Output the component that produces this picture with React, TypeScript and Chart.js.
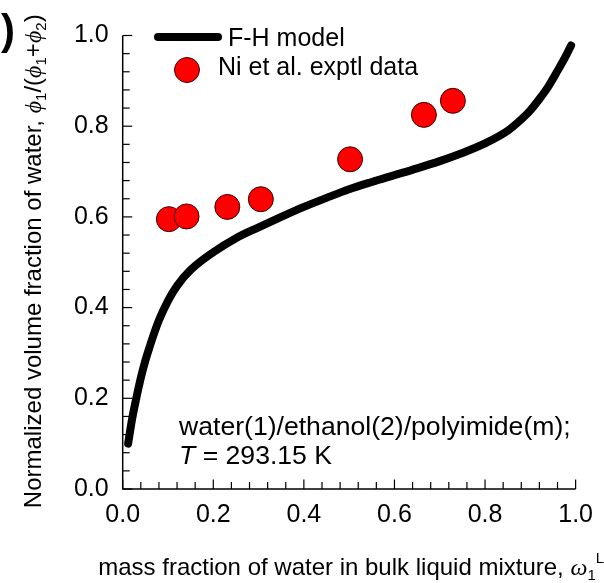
import React, { useEffect, useRef } from "react";
import { Chart, registerables } from "chart.js";

Chart.register(...registerables);

// ---- data ----
const modelX = [0.012, 0.02, 0.03, 0.04, 0.05, 0.06, 0.07, 0.08, 0.1, 0.12, 0.15, 0.2, 0.25, 0.3, 0.35, 0.4, 0.45, 0.5, 0.55, 0.6, 0.65, 0.7, 0.75, 0.8, 0.85, 0.88, 0.9, 0.92, 0.94, 0.96, 0.98, 0.99];
const modelY = [0.1, 0.15, 0.2, 0.245, 0.283, 0.315, 0.345, 0.372, 0.415, 0.448, 0.483, 0.522, 0.553, 0.577, 0.6, 0.622, 0.642, 0.661, 0.677, 0.692, 0.707, 0.723, 0.741, 0.762, 0.79, 0.815, 0.835, 0.86, 0.888, 0.922, 0.958, 0.978];
const exptX = [0.102, 0.141, 0.231, 0.305, 0.502, 0.665, 0.729];
const exptY = [0.595, 0.601, 0.622, 0.639, 0.727, 0.825, 0.856];
const xTicks = [0, 0.2, 0.4, 0.6, 0.8, 1.0];
const yTicks = [0, 0.2, 0.4, 0.6, 0.8, 1.0];
const seriesLabels = ["F-H model", "Ni et al. exptl data"];
const xTitle = "mass fraction of water in bulk liquid mixture, ";
const yTitle = "Normalized volume fraction of water, ";
const noteLine1 = "water(1)/ethanol(2)/polyimide(m);";
const noteLine2 = " = 293.15 K";

const SANS = "'Liberation Sans', Arial, sans-serif";
const SERIF = "'Liberation Serif', 'DejaVu Serif', 'Times New Roman', serif";

type Seg = { t: string; font: string; dy: number };

function drawSegs(ctx: CanvasRenderingContext2D, segs: Seg[], x: number, y: number, center: boolean) {
  let total = 0;
  for (const s of segs) {
    ctx.font = s.font;
    total += ctx.measureText(s.t).width;
  }
  let cx = center ? x - total / 2 : x;
  for (const s of segs) {
    ctx.font = s.font;
    ctx.fillText(s.t, cx, y + s.dy);
    cx += ctx.measureText(s.t).width;
  }
}

const decorPlugin = {
  id: "decor",
  afterDraw(chart: any) {
    const ctx: CanvasRenderingContext2D = chart.ctx;
    const xs = chart.scales.x;
    const ys = chart.scales.y;
    const area = chart.chartArea;
    ctx.save();
    ctx.strokeStyle = "#000";
    ctx.fillStyle = "#000";
    ctx.lineWidth = 1.5;
    // axis lines
    ctx.beginPath();
    ctx.moveTo(area.left, area.top);
    ctx.lineTo(area.left, area.bottom);
    ctx.lineTo(area.right, area.bottom);
    ctx.stroke();
    // ticks (inside)
    ctx.lineWidth = 1.2;
    for (let i = 0; i <= 25; i++) {
      const v = i * 0.04;
      const major = i % 5 === 0;
      const len = major ? 9.5 : 7;
      const px = xs.getPixelForValue(v);
      ctx.beginPath();
      ctx.moveTo(px, area.bottom);
      ctx.lineTo(px, area.bottom - len);
      ctx.stroke();
      const py = ys.getPixelForValue(v);
      ctx.beginPath();
      ctx.moveTo(area.left, py);
      ctx.lineTo(area.left + len, py);
      ctx.stroke();
    }

    ctx.textAlign = "left";
    ctx.textBaseline = "alphabetic";

    // legend
    ctx.lineWidth = 8;
    ctx.lineCap = "round";
    ctx.beginPath();
    ctx.moveTo(158, 37);
    ctx.lineTo(218, 37);
    ctx.stroke();
    ctx.font = `25px ${SANS}`;
    ctx.fillText(seriesLabels[0], 228, 46);
    ctx.beginPath();
    ctx.arc(187, 70, 12.5, 0, Math.PI * 2);
    ctx.fillStyle = "#ff0000";
    ctx.fill();
    ctx.lineWidth = 1;
    ctx.strokeStyle = "#3a0000";
    ctx.stroke();
    ctx.fillStyle = "#000";
    ctx.fillText(seriesLabels[1], 218, 74.5);

    // annotation
    ctx.font = `26.6px ${SANS}`;
    ctx.fillText(noteLine1, 179, 435);
    drawSegs(ctx, [
      { t: "T", font: `italic 26.6px ${SANS}`, dy: 0 },
      { t: noteLine2, font: `26.6px ${SANS}`, dy: 0 },
    ], 179, 464, false);

    // x title
    drawSegs(ctx, [
      { t: xTitle, font: `24px ${SANS}`, dy: 0 },
      { t: "\u03c9", font: `italic 24px ${SERIF}`, dy: 0 },
      { t: "1", font: `15px ${SANS}`, dy: 5 },
      { t: "L", font: `15px ${SANS}`, dy: -12 },
    ], (area.left + area.right) / 2 + 2, 575, true);

    // y title
    ctx.save();
    ctx.translate(41, (area.top + area.bottom) / 2 - 1);
    ctx.rotate(-Math.PI / 2);
    const phi = `italic 24px ${SERIF}`;
    const reg = `24px ${SANS}`;
    const sub = `15px ${SANS}`;
    drawSegs(ctx, [
      { t: yTitle, font: reg, dy: 0 },
      { t: "\u03d5", font: phi, dy: 0 },
      { t: "1", font: sub, dy: 5 },
      { t: "/(", font: reg, dy: 0 },
      { t: "\u03d5", font: phi, dy: 0 },
      { t: "1", font: sub, dy: 5 },
      { t: "+", font: reg, dy: 0 },
      { t: "\u03d5", font: phi, dy: 0 },
      { t: "2", font: sub, dy: 5 },
      { t: ")", font: reg, dy: 0 },
    ], 0, 0, true);
    ctx.restore();

    // panel label fragment
    ctx.font = `bold 42px ${SANS}`;
    ctx.fillText(")", 1, 44);

    ctx.restore();
  },
};

export default function App() {
  const ref = useRef<HTMLCanvasElement | null>(null);
  useEffect(() => {
    if (!ref.current) return;
    const chart = new Chart(ref.current, {
      type: "scatter",
      data: {
        datasets: [
          {
            label: seriesLabels[1],
            data: exptX.map((x, i) => ({ x, y: exptY[i] })),
            backgroundColor: "#ff0000",
            borderColor: "#3a0000",
            borderWidth: 1,
            pointRadius: 12.5,
            pointHoverRadius: 12.5,
            showLine: false,
            clip: false,
          } as any,
          {
            label: seriesLabels[0],
            data: modelX.map((x, i) => ({ x, y: modelY[i] })),
            showLine: true,
            borderColor: "#000",
            backgroundColor: "#000",
            borderWidth: 8,
            borderCapStyle: "round",
            borderJoinStyle: "round",
            pointRadius: 0,
            pointHoverRadius: 0,
            cubicInterpolationMode: "monotone",
            fill: false,
            clip: false,
          } as any,
        ],
      },
      options: {
        responsive: false,
        animation: false,
        events: [],
        layout: { padding: { left: 0, right: 28, top: 35.5, bottom: 0 } },
        plugins: { legend: { display: false }, tooltip: { enabled: false } },
        scales: {
          x: {
            type: "linear",
            min: 0,
            max: 1,
            grid: { display: false, drawTicks: false },
            border: { display: false },
            afterFit: (s: any) => { s.height = 94; },
            afterBuildTicks: (s: any) => { s.ticks = xTicks.map((v) => ({ value: v })); },
            ticks: {
              callback: (v: any) => Number(v).toFixed(1),
              font: { family: SANS, size: 25 },
              color: "#000",
              padding: 11,
              maxRotation: 0,
              autoSkip: false,
            },
          },
          y: {
            type: "linear",
            min: 0,
            max: 1,
            grid: { display: false, drawTicks: false },
            border: { display: false },
            afterFit: (s: any) => { s.width = 122.7; },
            afterBuildTicks: (s: any) => { s.ticks = yTicks.map((v) => ({ value: v })); },
            ticks: {
              callback: (v: any) => Number(v).toFixed(1),
              font: { family: SANS, size: 25 },
              color: "#000",
              padding: 14,
              autoSkip: false,
            },
          },
        },
      },
      plugins: [decorPlugin],
    });
    return () => chart.destroy();
  }, []);
  return (
    <div style={{ position: "absolute", left: 0, top: 0, width: 604, height: 583, background: "#fff" }}>
      <canvas ref={ref} width={604} height={583} style={{ display: "block" }} />
    </div>
  );
}
